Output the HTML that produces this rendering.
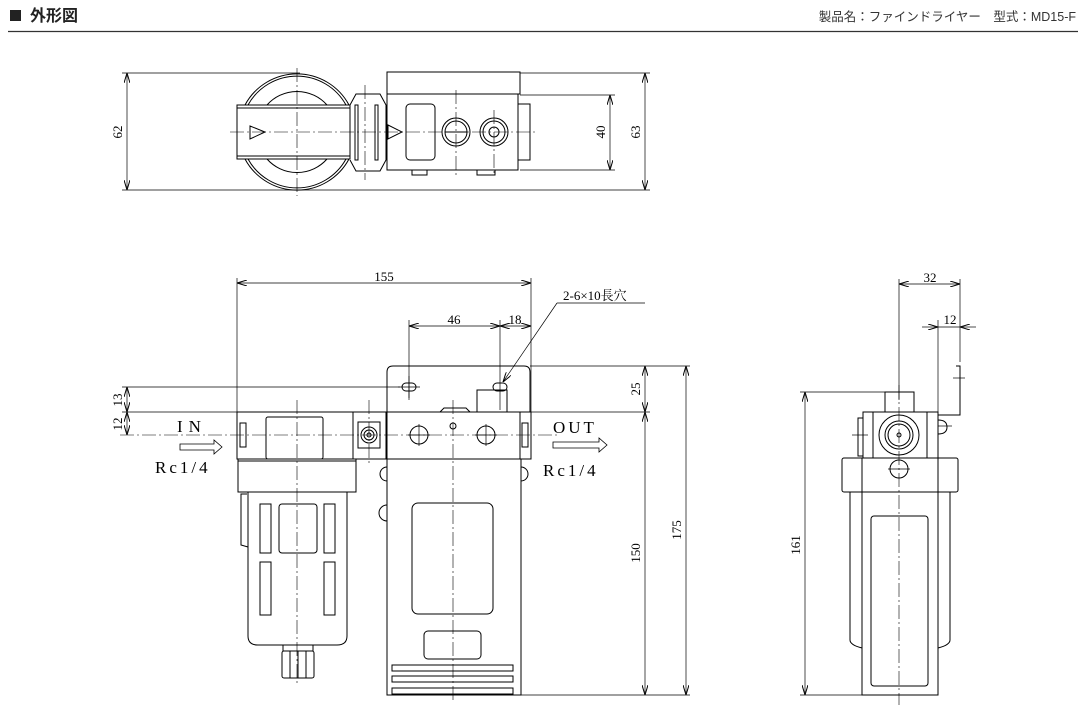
<!DOCTYPE html>
<html><head><meta charset="utf-8"><style>
html,body{margin:0;padding:0;background:#fff;width:1087px;height:713px;overflow:hidden}
svg{display:block}
.h{font-family:"Liberation Sans","Noto Sans CJK JP",sans-serif}
.d{font-family:"Liberation Serif","Noto Serif CJK SC",serif;font-size:13px;fill:#000}
.big{font-size:17px}
</style></head><body>
<svg width="1087" height="713" viewBox="0 0 1087 713" xmlns="http://www.w3.org/2000/svg">
<defs>
<marker id="a" viewBox="0 0 10 6" refX="10" refY="3" markerWidth="10" markerHeight="6" orient="auto-start-reverse" markerUnits="userSpaceOnUse"><path d="M0,0 L10,3 L0,6" fill="none" stroke="#000" stroke-width="1"/></marker>
</defs>
<rect x="10" y="10" width="11" height="11" fill="#222"/>
<text x="30" y="21" class="h" font-size="16" font-weight="bold" fill="#222">外形図</text>
<text x="1076" y="21" class="h" font-size="12.5" fill="#333" text-anchor="end">製品名：ファインドライヤー　型式：MD15-F</text>
<line x1="8" y1="31.5" x2="1078" y2="31.5" stroke="#333" stroke-width="1.2"/>

<g fill="none" stroke="#000" stroke-width="1">
<line x1="122" y1="73" x2="300" y2="73" stroke-width="0.7"/>
<line x1="122" y1="190" x2="650" y2="190" stroke-width="0.7"/>
<line x1="520" y1="73" x2="650" y2="73" stroke-width="0.7"/>
<line x1="520" y1="95" x2="615" y2="95" stroke-width="0.7"/>
<line x1="520" y1="170" x2="615" y2="170" stroke-width="0.7"/>
<line x1="127" y1="73" x2="127" y2="190" stroke-width="0.7" marker-start="url(#a)" marker-end="url(#a)"/>
<line x1="645" y1="73" x2="645" y2="190" stroke-width="0.7" marker-start="url(#a)" marker-end="url(#a)"/>
<line x1="610" y1="95" x2="610" y2="170" stroke-width="0.7" marker-start="url(#a)" marker-end="url(#a)"/>
<path d="M245,105 A59,59 0 0 1 349,105"/>
<path d="M248,105 A56,56 0 0 1 346,105"/>
<path d="M267,105 A40,40 0 0 1 327,105"/>
<path d="M245,159 A59,59 0 0 0 349,159"/>
<path d="M248,159 A56,56 0 0 0 346,159"/>
<path d="M267,159 A40,40 0 0 0 327,159"/>
<rect x="237" y="105" width="113" height="54"/>
<line x1="237" y1="108" x2="350" y2="108"/>
<line x1="237" y1="156" x2="350" y2="156"/>
<path d="M250,126 L265,132 L250,139 Z"/>
<path d="M350,105 L356,94 L380,94 L386,105 L386,160 L380,171 L356,171 L350,160"/>
<rect x="355" y="105" width="3" height="55"/><rect x="375" y="105" width="3" height="55"/>
<rect x="387" y="72" width="133" height="22"/>
<rect x="387" y="94" width="131" height="76"/>
<rect x="518" y="104" width="12" height="56"/>
<path d="M388,125 L402,132 L388,139 Z"/>
<rect x="406" y="104" width="29" height="56" rx="4"/>
<circle cx="456" cy="132" r="14"/><circle cx="456" cy="132" r="11"/>
<line x1="445" y1="132" x2="467" y2="132"/>
<circle cx="494" cy="132" r="14"/><circle cx="494" cy="132" r="11"/><circle cx="494" cy="132" r="5"/>
<rect x="412" y="170" width="15" height="5"/><rect x="477" y="170" width="18" height="5"/>
</g>
<g stroke="#000" stroke-width="0.6" stroke-dasharray="14,3,2,3" fill="none">
<line x1="230" y1="132" x2="535" y2="132"/>
<line x1="297" y1="68" x2="297" y2="196"/>
<line x1="365" y1="85" x2="365" y2="180"/>
<line x1="456" y1="90" x2="456" y2="175"/>
<line x1="494" y1="110" x2="494" y2="175"/>
</g>
<text class="d" transform="translate(122,132) rotate(-90)" text-anchor="middle">62</text>
<text class="d" transform="translate(640,132) rotate(-90)" text-anchor="middle">63</text>
<text class="d" transform="translate(605,132) rotate(-90)" text-anchor="middle">40</text>

<g fill="none" stroke="#000" stroke-width="0.7">
<line x1="237" y1="278" x2="237" y2="412"/>
<line x1="531" y1="278" x2="531" y2="412"/>
<line x1="237" y1="283" x2="531" y2="283" marker-start="url(#a)" marker-end="url(#a)"/>
<line x1="409" y1="320" x2="409" y2="400"/>
<line x1="500" y1="320" x2="500" y2="410"/>
<line x1="409" y1="326" x2="500" y2="326" marker-start="url(#a)" marker-end="url(#a)"/>
<line x1="500" y1="326" x2="531" y2="326" marker-start="url(#a)" marker-end="url(#a)"/>
<line x1="557" y1="303" x2="645" y2="303"/>
<line x1="557" y1="303" x2="503" y2="382" marker-end="url(#a)"/>
<line x1="122" y1="387" x2="400" y2="387"/>
<line x1="122" y1="412" x2="650" y2="412"/>
<line x1="530" y1="366" x2="690" y2="366"/>
<line x1="521" y1="695" x2="690" y2="695"/>
<line x1="127" y1="387" x2="127" y2="412" marker-start="url(#a)" marker-end="url(#a)"/>
<line x1="127" y1="412" x2="127" y2="435" marker-start="url(#a)" marker-end="url(#a)"/>
<line x1="645" y1="366" x2="645" y2="412" marker-start="url(#a)" marker-end="url(#a)"/>
<line x1="645" y1="412" x2="645" y2="695" marker-start="url(#a)" marker-end="url(#a)"/>
<line x1="686" y1="366" x2="686" y2="695" marker-start="url(#a)" marker-end="url(#a)"/>
</g>
<g fill="none" stroke="#000" stroke-width="1">
<path d="M387,412 L387,372 Q387,366 393,366 L524,366 Q530,366 530,372 L530,412"/>
<rect x="402" y="383" width="14" height="8" rx="4"/>
<rect x="493" y="383" width="14" height="8" rx="4"/>
<rect x="477" y="390" width="30" height="22"/>
<path d="M440,412 L444,408 L466,408 L470,412"/>
<rect x="237" y="412" width="116" height="47"/>
<rect x="240" y="423" width="6" height="24"/>
<rect x="266" y="417" width="57" height="42" rx="2"/>
<rect x="353" y="412" width="33" height="47"/>
<rect x="358" y="422" width="22" height="26"/>
<circle cx="369" cy="435" r="8"/><circle cx="369" cy="435" r="5"/><circle cx="369" cy="435" r="2"/>
<rect x="238" y="459" width="118" height="33"/>
<line x1="238" y1="461" x2="356" y2="461"/>
<path d="M248,492 L248,636 Q248,645 258,645 L337,645 Q347,645 347,636 L347,492"/>
<path d="M247,494 L241,494 L241,545 L248,547"/>
<rect x="260" y="504" width="11" height="49"/><rect x="324" y="504" width="11" height="49"/>
<rect x="279" y="504" width="38" height="49" rx="3"/>
<rect x="260" y="562" width="11" height="53"/><rect x="324" y="562" width="11" height="53"/>
<rect x="283" y="645" width="30" height="6"/>
<rect x="282" y="651" width="32" height="27" rx="2"/>
<line x1="290" y1="651" x2="290" y2="678"/><line x1="298" y1="651" x2="298" y2="678"/><line x1="306" y1="651" x2="306" y2="678"/>
<rect x="387" y="412" width="133" height="47"/>
<rect x="520" y="412" width="11" height="47"/>
<rect x="522" y="423" width="6" height="24"/>
<circle cx="419" cy="435" r="9"/><circle cx="486" cy="435" r="9"/>
<circle cx="453" cy="426" r="3"/>
<rect x="387" y="459" width="134" height="236"/>
<path d="M387,467 A7,7 0 0 0 387,481"/><path d="M521,467 A7,7 0 0 1 521,481"/>
<path d="M387,505 A7,7 0 0 0 387,521"/>
<rect x="412" y="503" width="81" height="111" rx="6"/>
<rect x="424" y="631" width="57" height="28" rx="4"/>
<rect x="392" y="665" width="121" height="6"/>
<rect x="392" y="676" width="121" height="6"/>
<rect x="392" y="688" width="121" height="6"/>
</g>
<g stroke="#000" stroke-width="0.6" stroke-dasharray="14,3,2,3" fill="none">
<line x1="120" y1="435" x2="560" y2="435"/>
<line x1="297" y1="400" x2="297" y2="685"/>
<line x1="369" y1="400" x2="369" y2="465"/>
<line x1="453" y1="400" x2="453" y2="703"/>
</g>
<g stroke="#000" stroke-width="0.7">
<line x1="409" y1="376" x2="409" y2="398"/><line x1="398" y1="387" x2="420" y2="387"/>
<line x1="419" y1="424" x2="419" y2="446"/><line x1="408" y1="435" x2="430" y2="435"/>
<line x1="486" y1="424" x2="486" y2="446"/><line x1="475" y1="435" x2="497" y2="435"/>
</g>
<text class="d" x="384" y="281" text-anchor="middle">155</text>
<text class="d" x="454" y="324" text-anchor="middle">46</text>
<text class="d" x="515" y="324" text-anchor="middle">18</text>
<text class="d" x="563" y="300">2-6×10長穴</text>
<text class="d" transform="translate(122,400) rotate(-90)" text-anchor="middle">13</text>
<text class="d" transform="translate(122,424) rotate(-90)" text-anchor="middle">12</text>
<text class="d" transform="translate(640,389) rotate(-90)" text-anchor="middle">25</text>
<text class="d" transform="translate(640,553) rotate(-90)" text-anchor="middle">150</text>
<text class="d" transform="translate(681,530) rotate(-90)" text-anchor="middle">175</text>
<text class="d big" x="177" y="432" style="font-size:17px;letter-spacing:6px">IN</text>
<path d="M180,444 L214,444 L214,440 L222,447 L214,454 L214,450 L180,450 Z" fill="none" stroke="#000" stroke-width="0.8"/>
<text class="d big" x="155" y="473" style="font-size:17px;letter-spacing:3px">Rc1/4</text>
<text class="d big" x="553" y="433" style="font-size:17px;letter-spacing:3px">OUT</text>
<path d="M553,442 L599,442 L599,438 L607,445 L599,452 L599,448 L553,448 Z" fill="none" stroke="#000" stroke-width="0.8"/>
<text class="d big" x="543" y="476" style="font-size:17px;letter-spacing:3px">Rc1/4</text>

<g fill="none" stroke="#000" stroke-width="0.7">
<line x1="899" y1="279" x2="899" y2="400"/>
<line x1="960" y1="279" x2="960" y2="362"/>
<line x1="938" y1="320" x2="938" y2="415"/>
<line x1="899" y1="284" x2="960" y2="284" marker-start="url(#a)" marker-end="url(#a)"/>
<line x1="922" y1="327" x2="938" y2="327" marker-end="url(#a)"/>
<line x1="976" y1="327" x2="960" y2="327" marker-end="url(#a)"/>
<line x1="938" y1="327" x2="960" y2="327"/>
<line x1="800" y1="392" x2="885" y2="392"/>
<line x1="800" y1="695" x2="862" y2="695"/>
<line x1="805" y1="392" x2="805" y2="695" marker-start="url(#a)" marker-end="url(#a)"/>
</g>
<g fill="none" stroke="#000" stroke-width="1">
<path d="M956,366 L960,366 L960,415 L938,415"/>
<rect x="885" y="392" width="29" height="20"/>
<rect x="863" y="412" width="75" height="46"/>
<line x1="873" y1="412" x2="873" y2="458"/><line x1="927" y1="412" x2="927" y2="458"/>
<rect x="858" y="418" width="5" height="38"/>
<path d="M938,420 Q947,420 947,427 Q947,434 938,434"/>
<circle cx="899" cy="435" r="20"/><circle cx="899" cy="435" r="14"/><circle cx="899" cy="435" r="11"/><circle cx="899" cy="435" r="2"/>
<rect x="842" y="458" width="116" height="34" rx="2"/>
<path d="M850,492 L850,640 Q850,645 862,648"/>
<path d="M950,492 L950,640 Q950,645 938,648"/>
<rect x="862" y="458" width="76" height="237"/>
<rect x="871" y="516" width="57" height="170" rx="3"/>
<circle cx="899" cy="469" r="9"/>
</g>
<g stroke="#000" stroke-width="0.6" stroke-dasharray="14,3,2,3" fill="none">
<line x1="899" y1="385" x2="899" y2="705"/>
</g>
<g stroke="#000" stroke-width="0.7">
<line x1="888" y1="469" x2="910" y2="469"/>
<line x1="953" y1="378" x2="965" y2="378"/>
<line x1="852" y1="435" x2="868" y2="435"/>
<line x1="938" y1="426" x2="952" y2="426"/>
</g>
<text class="d" x="930" y="282" text-anchor="middle">32</text>
<text class="d" x="950" y="324" text-anchor="middle">12</text>
<text class="d" transform="translate(800,545) rotate(-90)" text-anchor="middle">161</text>
</svg>
</body></html>
